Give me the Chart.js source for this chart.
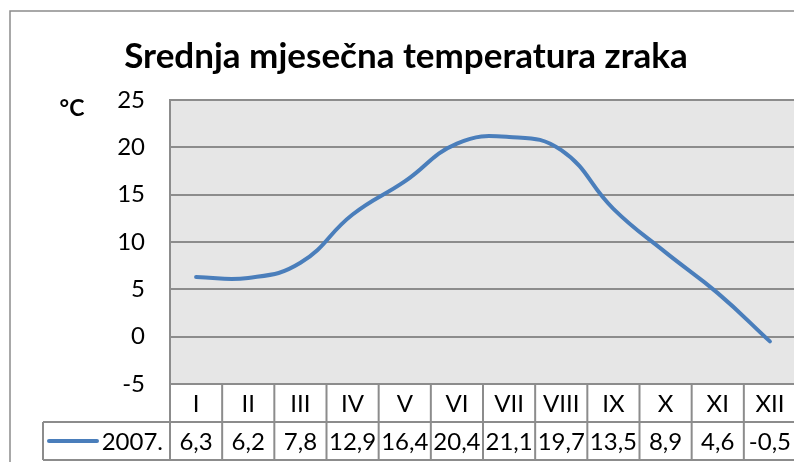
<!DOCTYPE html>
<html>
<head>
<meta charset="utf-8">
<script src="https://cdn.jsdelivr.net/npm/chart.js@4"></script>
<style>
  html, body { margin: 0; padding: 0; background: #fff; overflow: hidden; }
  #wrap { width: 800px; height: 462px; }
</style>
</head>
<body>
<div id="wrap"><canvas id="tempChart" width="800" height="462"></canvas></div>
<script>
// Podaci
const months = ['I', 'II', 'III', 'IV', 'V', 'VI', 'VII', 'VIII', 'IX', 'X', 'XI', 'XII'];
const temps2007 = [6.3, 6.2, 7.8, 12.9, 16.4, 20.4, 21.1, 19.7, 13.5, 8.9, 4.6, -0.5];
const seriesName = '2007.';
const yMin = -5, yMax = 25, yStep = 5;

const FONT = 'Lato, "Open Sans", sans-serif';
const GRID = '#8c8c8c';
const LINE = '#4a7ebb';

// Naslov, okvir, pozadina i tablica podataka
const excelLook = {
    id: 'excelLook',
    beforeDraw(chart) {
        const ctx = chart.ctx;
        const a = chart.chartArea;
        ctx.save();
        ctx.fillStyle = '#e6e6e6';
        ctx.fillRect(a.left, a.top, a.right - a.left, a.bottom - a.top);
        ctx.restore();
    },
    afterDraw(chart) {
        const ctx = chart.ctx;
        const a = chart.chartArea;
        const x = chart.scales.x;
        ctx.save();

        // vanjski okvir
        ctx.strokeStyle = GRID;
        ctx.lineWidth = 1.5;
        ctx.beginPath();
        ctx.moveTo(10, 470);
        ctx.lineTo(10, 11);
        ctx.lineTo(800, 11);
        ctx.stroke();

        // naslov
        ctx.fillStyle = '#000';
        ctx.font = 'bold 35px ' + FONT;
        ctx.textAlign = 'center';
        ctx.textBaseline = 'alphabetic';
        ctx.fillText('Srednja mjesečna temperatura zraka', 406, 68);

        ctx.font = 'bold 23px ' + FONT;
        ctx.fillText('°C', 72, 116);

        // tablica
        const row1 = a.bottom, row2 = a.bottom + 38, row3 = a.bottom + 76;
        const colW = (a.right - a.left) / months.length;
        const legendLeft = 43;

        ctx.strokeStyle = GRID;
        ctx.lineWidth = 2;
        ctx.beginPath();
        ctx.moveTo(legendLeft, row2); ctx.lineTo(a.right, row2);
        ctx.moveTo(legendLeft, row3); ctx.lineTo(a.right, row3);
        ctx.moveTo(legendLeft, row2); ctx.lineTo(legendLeft, row3);
        for (let i = 0; i <= months.length; i++) {
            const bx = a.left + i * colW;
            ctx.moveTo(bx, row1); ctx.lineTo(bx, row3);
        }
        ctx.stroke();

        ctx.font = '24px ' + FONT;
        ctx.textAlign = 'center';
        ctx.textBaseline = 'middle';
        ctx.fillStyle = '#000';
        months.forEach((m, i) => {
            const cx = x.getPixelForValue(i);
            ctx.fillText(m, cx, (row1 + row2) / 2 + 1);
            ctx.fillText(temps2007[i].toFixed(1).replace('.', ','), cx, (row2 + row3) / 2 + 1);
        });

        // legenda
        ctx.strokeStyle = LINE;
        ctx.lineWidth = 4;
        ctx.lineCap = 'round';
        ctx.beginPath();
        ctx.moveTo(49, (row2 + row3) / 2);
        ctx.lineTo(97, (row2 + row3) / 2);
        ctx.stroke();
        ctx.textAlign = 'right';
        ctx.fillText(seriesName, 163, (row2 + row3) / 2 + 1);

        ctx.restore();
    }
};

const ctx = document.getElementById('tempChart').getContext('2d');
new Chart(ctx, {
    type: 'line',
    data: {
        labels: months,
        datasets: [{
            label: seriesName,
            data: temps2007,
            borderColor: LINE,
            borderWidth: 4,
            pointRadius: 0,
            tension: 0.45,
            fill: false,
            borderCapStyle: 'round'
        }]
    },
    options: {
        responsive: false,
        animation: false,
        layout: {
            padding: { top: 100, left: 0, right: 4, bottom: 78 }
        },
        plugins: {
            legend: { display: false },
            title: { display: false },
            tooltip: { enabled: false }
        },
        scales: {
            x: {
                display: false,
                offset: true
            },
            y: {
                min: yMin,
                max: yMax,
                afterFit: function(scale) {
                    scale.width = 170;
                },
                ticks: {
                    stepSize: yStep,
                    color: '#000',
                    padding: 25,
                    font: { family: FONT, size: 24 }
                },
                grid: {
                    color: GRID,
                    lineWidth: 2,
                    drawTicks: false
                },
                border: {
                    display: true,
                    color: GRID,
                    width: 2
                }
            }
        }
    },
    plugins: [excelLook]
});
</script>
</body>
</html>
